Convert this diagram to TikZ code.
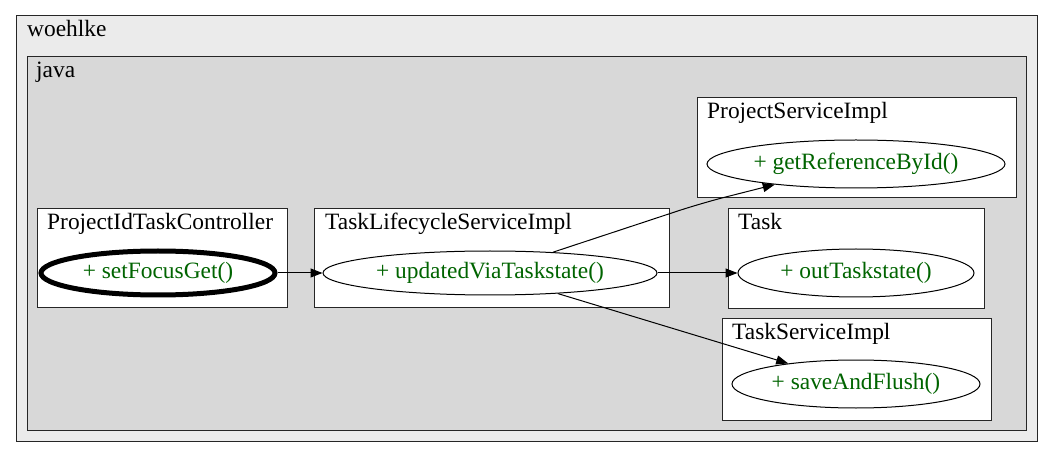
\documentclass[tikz,border=0pt]{standalone}
\usepackage{fontspec}
\setmainfont{Liberation Serif}
\usetikzlibrary{shapes.geometric,arrows.meta}
\definecolor{outerbg}{RGB}{235,235,235}
\definecolor{javabg}{RGB}{216,216,216}
\definecolor{methgreen}{RGB}{0,100,0}
\tikzset{
  cluster/.style={draw=black!85, line width=1pt},
  clabel/.style={anchor=base west, inner sep=0pt, font=\fontsize{23.4}{28}\selectfont},
  meth/.style={draw=black, ellipse, line width=1pt, inner sep=0pt, text=methgreen, font=\fontsize{23.4}{28}\selectfont},
  focus/.style={meth, line width=5pt},
  link/.style={draw=black, line width=1pt, -{Triangle[length=12pt,width=9pt]}}
}
\begin{document}
\begin{tikzpicture}[x=1pt,y=-1pt]
\useasboundingbox (0,0) rectangle (1053,457);
% outer clusters
\filldraw[cluster, fill=outerbg] (16,16) rectangle (1037,441);
\node[clabel] (lwoehlke) at (27,37) {woehlke};
\filldraw[cluster, fill=javabg] (27,57) rectangle (1026,430);
\node[clabel] (ljava) at (36,78) {java};
% class clusters
\filldraw[cluster, fill=white] (37,209) rectangle (287,308);
\node[clabel] (lpitc) at (47,230) {ProjectIdTaskController};
\filldraw[cluster, fill=white] (314,209) rectangle (669,308);
\node[clabel] (ltlsi) at (325,230) {TaskLifecycleServiceImpl};
\filldraw[cluster, fill=white] (697,98) rectangle (1016,198);
\node[clabel] (lpsi) at (707,119) {ProjectServiceImpl};
\filldraw[cluster, fill=white] (728,209) rectangle (984,309);
\node[clabel] (ltask) at (738,230) {Task};
\filldraw[cluster, fill=white] (722,319) rectangle (991,420);
\node[clabel] (ltsi) at (732,340) {TaskServiceImpl};
% methods
\node[focus, minimum width=234pt, minimum height=44pt] (sf) at (158,273) {+ setFocusGet()};
\node[meth, minimum width=334pt, minimum height=44pt] (uv) at (490,273) {+ updatedViaTaskstate()};
\node[meth, minimum width=298pt, minimum height=48pt] (gr) at (856,164) {+ getReferenceById()};
\node[meth, minimum width=236pt, minimum height=48pt] (ot) at (856,273) {+ outTaskstate()};
\node[meth, minimum width=248pt, minimum height=48pt] (sa) at (856,384) {+ saveAndFlush()};
% connectors
\draw[link] (sf.east) -- (uv.west);
\coordinate (bend) at (702,203);
\draw[link, rounded corners=25pt] (uv) -- (bend) -- (gr);
\draw[link] (uv.east) -- (ot.west);
\draw[link] (uv) -- (sa);
\end{tikzpicture}
\end{document}
